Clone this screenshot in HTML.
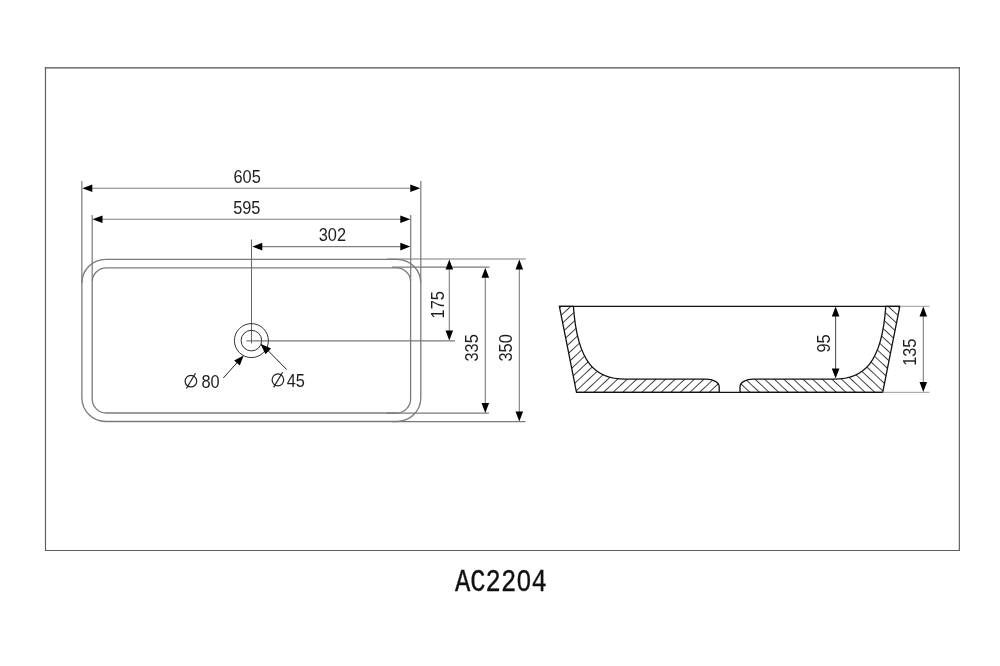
<!DOCTYPE html>
<html><head><meta charset="utf-8">
<style>
html,body{margin:0;padding:0;background:#fff;}
svg{display:block;will-change:transform;}
text{font-family:"Liberation Sans",sans-serif;}
</style></head>
<body>
<svg width="1000" height="666" viewBox="0 0 1000 666">
<defs>
<pattern id="hl" patternUnits="userSpaceOnUse" width="20" height="6.55" patternTransform="translate(584.3 392.3) rotate(-43) translate(0 -3.275)">
<path d="M-1 3.275 H21" stroke="#1a1a1a" stroke-width="0.85" fill="none"/>
</pattern>
<pattern id="hr" patternUnits="userSpaceOnUse" width="20" height="6.55" patternTransform="translate(778.6 392.2) rotate(43) translate(0 -3.275)">
<path d="M-1 3.275 H21" stroke="#1a1a1a" stroke-width="0.85" fill="none"/>
</pattern>
</defs>
<rect width="1000" height="666" fill="#fff"/>
<path d="M45.5 67.35 V551.05 M959.35 67.35 V551.05 M44.9 550.45 H959.95" stroke="#5e5e5e" stroke-width="1.15" fill="none"/>
<path d="M44.9 67.95 H959.95" stroke="#505050" stroke-width="1.2" fill="none"/>

<g fill="none" stroke="#7a7a7a" stroke-width="1.3">
<rect x="81.9" y="259.3" width="338.9" height="162.2" rx="23.8" ry="23.8"/>
<rect x="92.2" y="267.9" width="318.4" height="145.1" rx="14" ry="14"/>
</g>
<g stroke="#7a7a7a" stroke-width="1.2" fill="none">
<path d="M81.85 181 V283 M420.8 181 V283 M92.2 215 V281 M410.7 215 V281"/>
<path d="M387 259.0 H525.8 M392 267.15 H489.5 M246.4 340.8 H455 M387 413.15 H489 M392 421.65 H525.5"/>
</g>
<path d="M85.30 188.20 H417.30" stroke="#808080" stroke-width="1.1" fill="none"/>
<path d="M82.30 188.20 L92.30 184.40 L92.30 192.00 Z M420.30 188.20 L410.30 192.00 L410.30 184.40 Z" fill="#000"/>
<path d="M95.50 219.20 H407.30" stroke="#808080" stroke-width="1.1" fill="none"/>
<path d="M92.50 219.20 L102.50 215.40 L102.50 223.00 Z M410.30 219.20 L400.30 223.00 L400.30 215.40 Z" fill="#000"/>
<path d="M255.30 246.60 H407.30" stroke="#808080" stroke-width="1.1" fill="none"/>
<path d="M252.30 246.60 L262.30 242.80 L262.30 250.40 Z M410.30 246.60 L400.30 250.40 L400.30 242.80 Z" fill="#000"/>
<path d="M449.30 262.40 V337.60" stroke="#7c7c7c" stroke-width="1.1" fill="none"/>
<path d="M449.30 259.40 L453.10 269.40 L445.50 269.40 Z M449.30 340.60 L445.50 330.60 L453.10 330.60 Z" fill="#000"/>
<path d="M485.30 270.70 V410.00" stroke="#7c7c7c" stroke-width="1.1" fill="none"/>
<path d="M485.30 267.70 L489.10 277.70 L481.50 277.70 Z M485.30 413.00 L481.50 403.00 L489.10 403.00 Z" fill="#000"/>
<path d="M519.30 262.40 V418.50" stroke="#7c7c7c" stroke-width="1.1" fill="none"/>
<path d="M519.30 259.40 L523.10 269.40 L515.50 269.40 Z M519.30 421.50 L515.50 411.50 L523.10 411.50 Z" fill="#000"/>
<path d="M251.5 239.5 V343.5" stroke="#666" stroke-width="1"/>
<g fill="none" stroke="#333" stroke-width="1"><circle cx="251.4" cy="340.6" r="17"/><circle cx="251.4" cy="340.6" r="10.3"/></g>
<path d="M223.3 378 L239 360.5 M286.8 369.7 L266.5 349" stroke="#222" stroke-width="1" fill="none"/>
<path d="M243.70 355.60 L239.78 365.55 L234.16 360.43 Z M260.40 343.70 L271.04 348.57 L265.43 354.27 Z" fill="#000"/>
<g fill="none" stroke="#222" stroke-width="1.2">
<ellipse cx="190.9" cy="381.2" rx="5.8" ry="5.75"/><path d="M186.4 388.5 L195.5 373.3"/>
<ellipse cx="277.9" cy="379.8" rx="5.8" ry="6"/><path d="M273.6 387.4 L282.6 372.2"/>
</g>
<g font-size="17.6" fill="#1e1e1e" style="opacity:0.999">
<text transform="translate(247.10 182.90) scale(0.93 1)" text-anchor="middle">605</text>
<text transform="translate(246.80 213.60) scale(0.93 1)" text-anchor="middle">595</text>
<text transform="translate(332.40 241.00) scale(0.93 1)" text-anchor="middle">302</text>
<text transform="translate(210.50 388.00) scale(0.93 1)" text-anchor="middle">80</text>
<text transform="translate(295.80 386.90) scale(0.93 1)" text-anchor="middle">45</text>
<text transform="translate(444.00 304.80) rotate(-90) scale(0.93 1)" text-anchor="middle">175</text>
<text transform="translate(477.80 347.90) rotate(-90) scale(0.93 1)" text-anchor="middle">335</text>
<text transform="translate(512.30 347.90) rotate(-90) scale(0.93 1)" text-anchor="middle">350</text>
<text transform="translate(830.00 343.40) rotate(-90) scale(0.93 1)" text-anchor="middle">95</text>
<text transform="translate(916.00 352.20) rotate(-90) scale(0.93 1)" text-anchor="middle">135</text>
</g>
<path d="M559.4 306.3 L573.4 306.3 C577.3 363.2 595.5 379.1 625.4 379.1 L706 379.1 A13.2 7.8 0 0 1 719.2 387 L719.2 392.3 L576.5 392.3 Z" fill="url(#hl)" stroke="#111" stroke-width="1.3"/>
<path d="M899.8 306.3 L885.8 306.3 C881.9 363.2 863.7 379.1 833.8 379.1 L753.2 379.1 A13.2 7.8 0 0 0 740 387 L740 392.3 L882.7 392.3 Z" fill="url(#hr)" stroke="#111" stroke-width="1.3"/>
<path d="M559.4 306.3 H899.8 M576.5 392.3 H882.7" stroke="#111" stroke-width="1.3" fill="none"/>
<path d="M899.8 306.3 H929.4 M882.7 392.3 H929.4" stroke="#999" stroke-width="1" fill="none"/>
<path d="M923.30 309.60 V389.00" stroke="#7c7c7c" stroke-width="1.1" fill="none"/>
<path d="M923.30 306.60 L927.10 316.60 L919.50 316.60 Z M923.30 392.00 L919.50 382.00 L927.10 382.00 Z" fill="#000"/>
<path d="M835.60 309.60 V375.60" stroke="#555" stroke-width="1.1" fill="none"/>
<path d="M835.60 306.60 L839.40 316.60 L831.80 316.60 Z M835.60 378.60 L831.80 368.60 L839.40 368.60 Z" fill="#000"/>
<text x="455" y="591.2" style="font-family:Liberation Mono;opacity:0.999" font-size="30.9" textLength="91.8" lengthAdjust="spacingAndGlyphs" fill="#111" stroke="#111" stroke-width="0.35">AC2204</text>
<rect x="521.2" y="576.6" width="5.6" height="6.6" fill="#fff"/>
</svg>
</body></html>
